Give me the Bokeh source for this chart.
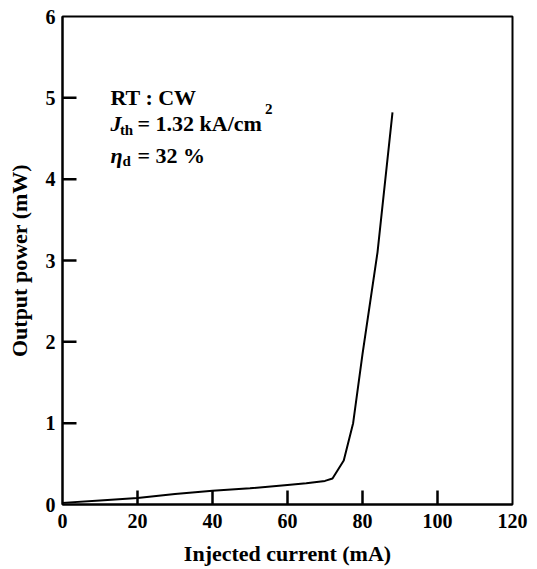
from bokeh.plotting import figure
from bokeh.models import Range1d, FixedTicker, Label
from bokeh.embed import file_html
from bokeh.resources import INLINE

# Data
current_mA = [0, 10, 20, 30, 40, 50, 60, 65, 70, 72, 75, 77.5, 80, 84, 88]
power_mW = [0.02, 0.05, 0.08, 0.13, 0.17, 0.20, 0.24, 0.26, 0.29, 0.32, 0.54, 1.0, 1.85, 3.1, 4.82]

x_ticks = [0, 20, 40, 60, 80, 100, 120]
y_ticks = [0, 1, 2, 3, 4, 5, 6]

FONT = "Liberation Serif"
X0, X1, Y0, Y1 = 0, 120, 0, 6

p = figure(width=537, height=569, output_backend="svg", toolbar_location=None,
           x_range=Range1d(X0, X1), y_range=Range1d(Y0, Y1),
           min_border_left=62, min_border_right=25, min_border_top=16, min_border_bottom=65)
p.background_fill_color = None
p.border_fill_color = "white"
p.grid.visible = False
p.outline_line_color = "black"
p.outline_line_width = 2

p.line(current_mA, power_mW, line_color="black", line_width=2)

# inward ticks (14 px long), drawn as thin filled rectangles from the tick lists
frame_w, frame_h = 537 - 62 - 25, 569 - 16 - 65
tx_len = 14.0 * (Y1 - Y0) / frame_h
ty_len = 14.0 * (X1 - X0) / frame_w
xt = [t for t in x_ticks if X0 < t < X1]
yt = [t for t in y_ticks if Y0 < t < Y1]
p.rect(x=xt, y=[Y0 + tx_len / 2] * len(xt), width=2.5, height=14,
       width_units="screen", height_units="screen",
       fill_color="black", line_color=None)
p.rect(x=[X0 + ty_len / 2] * len(yt), y=yt, width=14, height=2.5,
       width_units="screen", height_units="screen",
       fill_color="black", line_color=None)

for ax in (p.xaxis[0], p.yaxis[0]):
    ax.axis_line_width = 2
    ax.major_tick_line_color = None
    ax.major_tick_in = 0
    ax.major_tick_out = 0
    ax.minor_tick_line_color = None
    ax.major_label_text_font = FONT
    ax.major_label_text_font_style = "bold"
    ax.major_label_text_font_size = "20px"
    ax.major_label_text_color = "black"
    ax.axis_label_text_font = FONT
    ax.axis_label_text_font_style = "bold"
    ax.axis_label_text_font_size = "22px"
    ax.axis_label_text_color = "black"

p.xaxis[0].ticker = FixedTicker(ticks=x_ticks)
p.yaxis[0].ticker = FixedTicker(ticks=y_ticks)
p.xaxis[0].axis_label = "Injected current (mA)"
p.yaxis[0].axis_label = "Output power (mW)"
p.xaxis[0].major_label_standoff = 9
p.xaxis[0].axis_label_standoff = 10
p.yaxis[0].major_label_standoff = 7
p.yaxis[0].axis_label_standoff = 11

def lab(x, y, t, size="22px", style="bold"):
    p.add_layout(Label(x=x, y=y, text=t, text_font=FONT, text_font_size=size,
                       text_font_style=style, text_color="black",
                       text_baseline="alphabetic", text_align="left"))

lab(12.8, 5.0, "RT : CW")
lab(12.8, 4.69, "J", style="bold italic")
lab(15.3, 4.60, "th", size="15px")
lab(20.0, 4.69, "= 1.32 kA/cm")
lab(54.0, 4.86, "2", size="15px")
lab(12.8, 4.29, "η", style="bold italic")
lab(16.0, 4.22, "d", size="15px")
lab(20.0, 4.29, "= 32 %")

open("out.html", "w").write(file_html(p, INLINE))
